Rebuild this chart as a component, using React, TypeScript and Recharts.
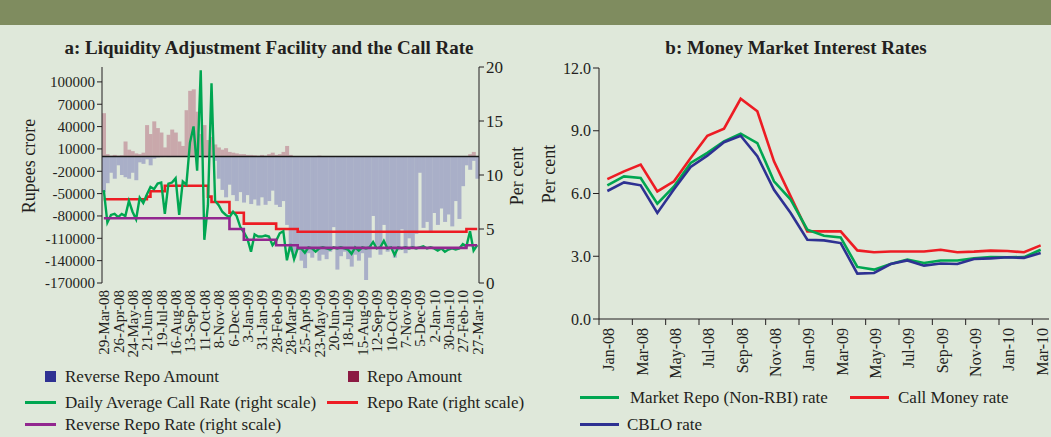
import { ComposedChart, LineChart, Line, Bar, XAxis, YAxis, ReferenceLine } from 'recharts';

// a: weekly LAF data, 29-Mar-08 .. 27-Mar-10
const weekTickLabels = [
  '29-Mar-08', '26-Apr-08', '24-May-08', '21-Jun-08', '19-Jul-08', '16-Aug-08', '13-Sep-08',
  '11-Oct-08', '8-Nov-08', '6-Dec-08', '3-Jan-09', '31-Jan-09', '28-Feb-09', '28-Mar-09',
  '25-Apr-09', '23-May-09', '20-Jun-09', '18-Jul-09', '15-Aug-09', '12-Sep-09', '10-Oct-09',
  '7-Nov-09', '5-Dec-09', '2-Jan-10', '30-Jan-10', '27-Feb-10', '27-Mar-10',
];

const reverseRepoAmount = [
  -48000, -36000, -22000, -30000, -12000, -25000, -28000, -30000, -22000, -32000,
  -8000, -10000, -4000, -12000, -3000, -1500, -1000, -800, -1000, -600,
  -800, -500, -700, -600, -500, -400, -600, -800, -1500, -1000,
  -2000, -6000, -30000, -45000, -55000, -38000, -52000, -60000, -48000, -62000,
  -52000, -64000, -58000, -66000, -55000, -65000, -60000, -46000, -65000, -68000,
  -60000, -92000, -128000, -136000, -122000, -140000, -150000, -130000, -136000, -125000,
  -140000, -132000, -138000, -128000, -95000, -152000, -134000, -128000, -138000, -148000,
  -132000, -140000, -130000, -166000, -136000, -80000, -120000, -132000, -92000, -128000,
  -122000, -136000, -126000, -98000, -130000, -110000, -124000, -104000, -22000, -96000,
  -88000, -100000, -76000, -92000, -70000, -88000, -78000, -94000, -60000, -84000,
  -40000, -12000, -18000, -6000, -30000,
];

const repoAmount = [
  58000, 3000, 1000, 2000, 1000, 1500, 20000, 9000, 7000, 4000,
  3000, 5000, 42000, 30000, 47000, 38000, 32000, 12000, 29000, 36000,
  32000, 20000, 14000, 62000, 88000, 90000, 60000, 30000, 42000, 22000,
  26000, 16000, 12000, 9000, 11000, 6000, 5000, 4000, 3000, 3000,
  2000, 2000, 1500, 1000, 2000, 1000, 3000, 5000, 2000, 3000,
  6000, 14000, 2000, 500, 0, 0, 0, 0, 0, 0,
  1000, 0, 0, 0, 0, 0, 0, 0, 0, 0,
  0, 0, 0, 0, 0, 500, 0, 0, 0, 0,
  0, 0, 0, 0, 0, 0, 0, 0, 0, 0,
  0, 0, 0, 0, 0, 0, 500, 0, 0, 0,
  0, 0, 3000, 6000, 0,
];

const callRate = [
  8.6, 5.6, 6.3, 6.4, 6.1, 6.4, 6.2, 7.6, 6.6, 5.9,
  7.9, 7.4, 8.2, 8.9, 8.7, 9.2, 9.3, 6.4, 9.2, 9.3,
  9.7, 6.3, 9.4, 9.1, 13.0, 14.5, 10.4, 19.7, 4.0, 7.2,
  18.5, 7.6, 7.2, 6.6, 6.3, 6.1, 6.6, 6.2, 5.2, 4.7,
  4.1, 2.9, 4.5, 4.3, 4.3, 4.4, 4.3, 3.5, 3.9, 4.6,
  4.8, 2.1, 3.6, 2.2, 3.2, 3.2, 2.8, 3.3, 3.2, 2.9,
  3.2, 3.3, 3.2, 3.1, 3.3, 3.2, 3.3, 3.2, 3.1, 2.7,
  3.3, 3.0, 3.3, 3.2, 3.3, 3.8, 3.2, 3.3, 3.9, 3.2,
  3.3, 2.6, 3.3, 3.2, 3.3, 3.2, 3.3, 3.2, 3.3, 3.4,
  3.2, 3.3, 3.2, 3.0, 3.2, 2.9, 3.1, 3.2, 3.1, 3.2,
  3.6, 3.4, 4.8, 3.0, 3.5,
];

const repoRate = [
  7.75, 7.75, 7.75, 7.75, 7.75, 7.75, 7.75, 7.75, 7.75, 7.75,
  7.75, 7.75, 8.0, 8.5, 8.5, 8.5, 8.5, 9.0, 9.0, 9.0,
  9.0, 9.0, 9.0, 9.0, 9.0, 9.0, 9.0, 9.0, 9.0, 8.0,
  7.5, 7.5, 7.5, 7.5, 7.5, 6.5, 6.5, 6.5, 6.5, 5.5,
  5.5, 5.5, 5.5, 5.5, 5.5, 5.5, 5.5, 5.5, 5.0, 5.0,
  5.0, 5.0, 5.0, 5.0, 4.75, 4.75, 4.75, 4.75, 4.75, 4.75,
  4.75, 4.75, 4.75, 4.75, 4.75, 4.75, 4.75, 4.75, 4.75, 4.75,
  4.75, 4.75, 4.75, 4.75, 4.75, 4.75, 4.75, 4.75, 4.75, 4.75,
  4.75, 4.75, 4.75, 4.75, 4.75, 4.75, 4.75, 4.75, 4.75, 4.75,
  4.75, 4.75, 4.75, 4.75, 4.75, 4.75, 4.75, 4.75, 4.75, 4.75,
  4.75, 5.0, 5.0, 5.0, 5.0,
];

const reverseRepoRate = [
  6.0, 6.0, 6.0, 6.0, 6.0, 6.0, 6.0, 6.0, 6.0, 6.0,
  6.0, 6.0, 6.0, 6.0, 6.0, 6.0, 6.0, 6.0, 6.0, 6.0,
  6.0, 6.0, 6.0, 6.0, 6.0, 6.0, 6.0, 6.0, 6.0, 6.0,
  6.0, 6.0, 6.0, 6.0, 6.0, 5.0, 5.0, 5.0, 5.0, 4.0,
  4.0, 4.0, 4.0, 4.0, 4.0, 4.0, 4.0, 4.0, 3.5, 3.5,
  3.5, 3.5, 3.5, 3.5, 3.25, 3.25, 3.25, 3.25, 3.25, 3.25,
  3.25, 3.25, 3.25, 3.25, 3.25, 3.25, 3.25, 3.25, 3.25, 3.25,
  3.25, 3.25, 3.25, 3.25, 3.25, 3.25, 3.25, 3.25, 3.25, 3.25,
  3.25, 3.25, 3.25, 3.25, 3.25, 3.25, 3.25, 3.25, 3.25, 3.25,
  3.25, 3.25, 3.25, 3.25, 3.25, 3.25, 3.25, 3.25, 3.25, 3.25,
  3.25, 3.5, 3.5, 3.5, 3.5,
];

// b: monthly money market rates
const months = [
  'Jan-08', 'Feb-08', 'Mar-08', 'Apr-08', 'May-08', 'Jun-08', 'Jul-08', 'Aug-08', 'Sep-08',
  'Oct-08', 'Nov-08', 'Dec-08', 'Jan-09', 'Feb-09', 'Mar-09', 'Apr-09', 'May-09', 'Jun-09',
  'Jul-09', 'Aug-09', 'Sep-09', 'Oct-09', 'Nov-09', 'Dec-09', 'Jan-10', 'Feb-10', 'Mar-10',
];
const callMoney = [6.69, 7.06, 7.38, 6.10, 6.58, 7.70, 8.76, 9.10, 10.53, 9.93, 7.54, 5.86, 4.19, 4.19, 4.19, 3.28, 3.19, 3.23, 3.23, 3.23, 3.31, 3.19, 3.22, 3.27, 3.25, 3.19, 3.52];
const marketRepo = [6.39, 6.82, 6.74, 5.51, 6.34, 7.46, 7.94, 8.49, 8.86, 8.41, 6.58, 5.71, 4.27, 3.98, 3.90, 2.49, 2.36, 2.63, 2.84, 2.68, 2.80, 2.80, 2.90, 2.96, 2.95, 2.96, 3.31];
const cblo = [6.12, 6.53, 6.39, 5.07, 6.20, 7.27, 7.81, 8.45, 8.76, 7.78, 6.18, 5.07, 3.79, 3.76, 3.63, 2.17, 2.20, 2.63, 2.80, 2.55, 2.65, 2.63, 2.87, 2.90, 2.95, 2.92, 3.16];

const lafData = callRate.map((c, i) => ({
  w: i,
  repo: repoAmount[i],
  rev: reverseRepoAmount[i],
  call: c,
  repoRate: repoRate[i],
  revRate: reverseRepoRate[i],
}));
const mmData = months.map((m, i) => ({ m, call: callMoney[i], mrepo: marketRepo[i], cblo: cblo[i] }));

const FONT = '"Liberation Serif", serif';
const INK = '#231f20';
const GREEN = '#00a651';
const RED = '#ed1c24';
const PURPLE = '#92278f';
const BLUE = '#2e3192';

function WeekTick({ x, y, payload }: any) {
  const label = weekTickLabels[payload.value / 4];
  const tx = x + 5.5;
  const ty = y + 7;
  return (
    <text x={tx} y={ty} transform={`rotate(-90 ${tx} ${ty})`} textAnchor="end" fontSize={15} fill={INK} fontFamily={FONT}>
      {label}
    </text>
  );
}

function MonthTick({ x, y, payload }: any) {
  const bx = x - 8.33;
  const tx = x + 7;
  const ty = y + 9;
  return (
    <g>
      <line x1={bx} y1={y} x2={bx} y2={y + 6} stroke={INK} strokeWidth={1} />
      <text x={tx} y={ty} transform={`rotate(-90 ${tx} ${ty})`} textAnchor="end" fontSize={16} fill={INK} fontFamily={FONT}>
        {payload.value}
      </text>
    </g>
  );
}

function Txt({ x, cy, size = 17, bold = false, center = false, children }: any) {
  return (
    <div
      style={{
        position: 'absolute', left: x, top: cy - size / 2, lineHeight: `${size}px`, fontSize: size,
        fontWeight: bold ? 700 : 400, whiteSpace: 'nowrap', color: INK, fontFamily: FONT,
        transform: center ? 'translateX(-50%)' : undefined,
      }}
    >
      {children}
    </div>
  );
}

function VTxt({ cx, cy, size = 18, children }: any) {
  return (
    <div
      style={{
        position: 'absolute', left: cx, top: cy, fontSize: size, lineHeight: `${size}px`, whiteSpace: 'nowrap',
        color: INK, fontFamily: FONT, transform: 'translate(-50%,-50%) rotate(-90deg)',
      }}
    >
      {children}
    </div>
  );
}

const Swatch = ({ x, cy, color }: any) => (
  <div style={{ position: 'absolute', left: x, top: cy - 5.5, width: 11, height: 11, background: color }} />
);
const Stroke = ({ x, cy, w = 31, color }: any) => (
  <div style={{ position: 'absolute', left: x, top: cy - 1.5, width: w, height: 3, background: color }} />
);

export default function App() {
  return (
    <div style={{ position: 'absolute', left: 0, top: 0, width: 1051, height: 437, background: '#dfe8da', overflow: 'hidden', fontFamily: FONT }}>
      <div style={{ position: 'absolute', left: 0, top: 0, width: 1051, height: 25, background: '#7f8c5f' }} />

      <Txt x={269} cy={47} size={19} bold center>a: Liquidity Adjustment Facility and the Call Rate</Txt>
      <Txt x={796} cy={47} size={19} bold center>b: Money Market Interest Rates</Txt>

      <div style={{ position: 'absolute', left: 0, top: 0 }}>
        <ComposedChart
          width={531}
          height={437}
          data={lafData}
          stackOffset="sign"
          barCategoryGap={0}
          margin={{ top: 67, right: 0, left: 0, bottom: 84 }}
        >
          <XAxis dataKey="w" interval={3} axisLine={false} tickLine={false} tickSize={0} tickMargin={0} height={70} tick={<WeekTick />} />
          <YAxis
            yAxisId="amt"
            orientation="left"
            width={102}
            domain={[-170000, 120000]}
            ticks={[100000, 70000, 40000, 10000, -20000, -50000, -80000, -110000, -140000, -170000]}
            interval={0}
            tickSize={5}
            tickMargin={2}
            tick={{ fontSize: 15, fill: INK, fontFamily: FONT }}
            axisLine={{ stroke: INK }}
            tickLine={{ stroke: INK }}
          />
          <YAxis
            yAxisId="pct"
            orientation="right"
            width={52}
            domain={[0, 20]}
            ticks={[0, 5, 10, 15, 20]}
            interval={0}
            tickSize={5}
            tickMargin={2}
            tick={{ fontSize: 17, fill: INK, fontFamily: FONT }}
            axisLine={{ stroke: INK }}
            tickLine={{ stroke: INK }}
          />
          <Bar yAxisId="amt" dataKey="rev" stackId="laf" fill="#a9afc8" isAnimationActive={false} />
          <Bar yAxisId="amt" dataKey="repo" stackId="laf" fill="#c9a8ab" isAnimationActive={false} />
          <ReferenceLine yAxisId="amt" y={0} stroke="#1a1a1a" strokeWidth={1.5} />
          <Line yAxisId="pct" type="stepAfter" dataKey="repoRate" stroke={RED} strokeWidth={2.6} dot={false} isAnimationActive={false} />
          <Line yAxisId="pct" type="linear" dataKey="call" stroke={GREEN} strokeWidth={2.4} dot={false} isAnimationActive={false} />
          <Line yAxisId="pct" type="stepAfter" dataKey="revRate" stroke={PURPLE} strokeWidth={2.6} dot={false} isAnimationActive={false} />
        </ComposedChart>
      </div>

      <VTxt cx={29} cy={166} size={18}>Rupees crore</VTxt>
      <VTxt cx={517} cy={176} size={18}>Per cent</VTxt>

      <Swatch x={45} cy={376} color={BLUE} />
      <Txt x={65} cy={376}>Reverse Repo Amount</Txt>
      <Swatch x={348} cy={376} color="#8b1a42" />
      <Txt x={367} cy={376}>Repo Amount</Txt>
      <Stroke x={25} cy={402} color={GREEN} />
      <Txt x={65} cy={402}>Daily Average Call Rate (right scale)</Txt>
      <Stroke x={327} cy={402} color={RED} />
      <Txt x={367} cy={402}>Repo Rate (right scale)</Txt>
      <Stroke x={25} cy={424} color={PURPLE} />
      <Txt x={65} cy={424}>Reverse Repo Rate (right scale)</Txt>

      <div style={{ position: 'absolute', left: 530, top: 0 }}>
        <LineChart width={521} height={437} data={mmData} margin={{ top: 68, right: 2, left: 0, bottom: 58 }}>
          <XAxis
            dataKey="m"
            scale="band"
            interval={1}
            height={60}
            tickSize={0}
            tickMargin={0}
            tickLine={false}
            axisLine={{ stroke: INK }}
            tick={<MonthTick />}
          />
          <YAxis
            width={69}
            domain={[0, 12]}
            ticks={[0, 3, 6, 9, 12]}
            interval={0}
            tickFormatter={(v: number) => v.toFixed(1)}
            tickSize={6}
            tickMargin={2}
            tick={{ fontSize: 16, fill: INK, fontFamily: FONT }}
            axisLine={{ stroke: INK }}
            tickLine={{ stroke: INK }}
          />
          <Line type="linear" dataKey="call" stroke={RED} strokeWidth={2.6} dot={false} isAnimationActive={false} />
          <Line type="linear" dataKey="mrepo" stroke={GREEN} strokeWidth={2.6} dot={false} isAnimationActive={false} />
          <Line type="linear" dataKey="cblo" stroke={BLUE} strokeWidth={2.6} dot={false} isAnimationActive={false} />
        </LineChart>
      </div>

      <VTxt cx={549} cy={174} size={18}>Per cent</VTxt>

      <Stroke x={580} cy={397} w={39} color={GREEN} />
      <Txt x={630} cy={397}>Market Repo (Non-RBI) rate</Txt>
      <Stroke x={850} cy={397} w={39} color={RED} />
      <Txt x={898} cy={397}>Call Money rate</Txt>
      <Stroke x={580} cy={424} w={39} color={BLUE} />
      <Txt x={627} cy={424}>CBLO rate</Txt>
    </div>
  );
}
